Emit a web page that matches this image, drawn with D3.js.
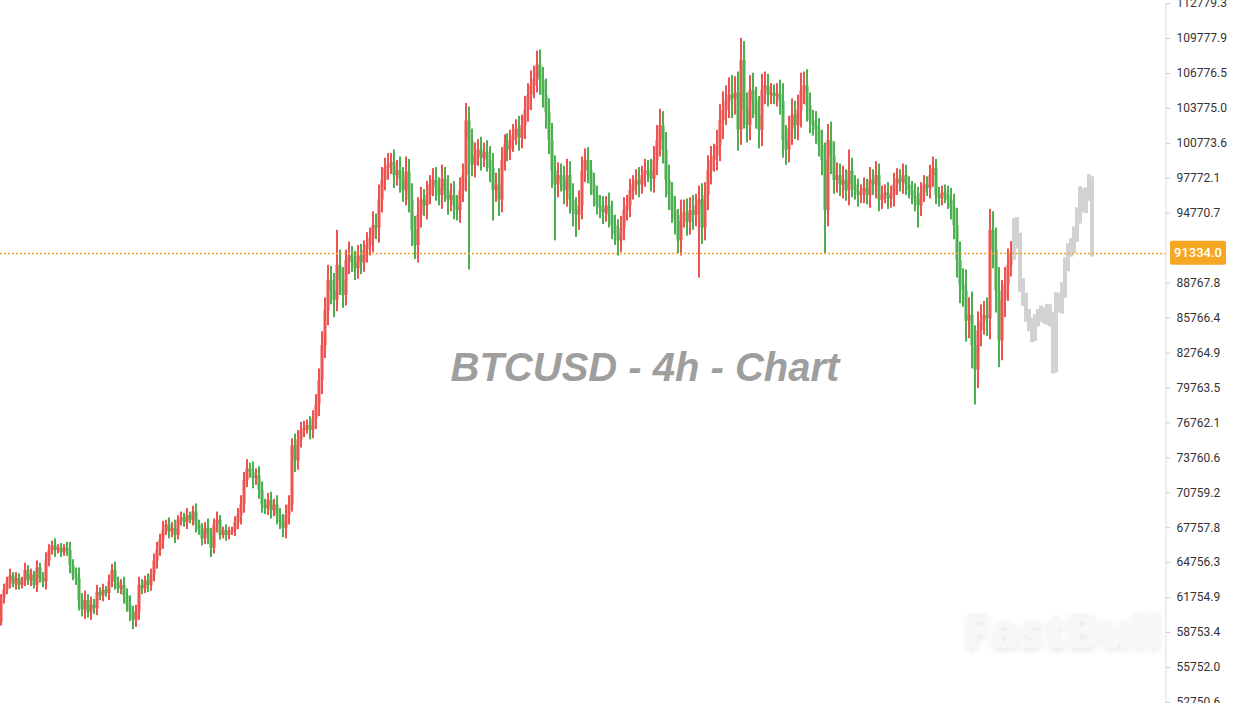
<!DOCTYPE html>
<html>
<head>
<meta charset="utf-8">
<script src="https://cdn.jsdelivr.net/npm/d3@7"></script>
<style>
  body { margin: 0; background: #fff; overflow: hidden; }
  svg { display: block; }
</style>
</head>
<body>
<div id="chart"></div>
<script>
// 4h closes, thousands of USD, read left to right off the chart
var firstOpen = 59.6;
var closes = [
  61.7, 62.4, 63.1, 63.6, 62.9, 63.4, 62.8, 63.2, 64.1, 63.2,
  63.7, 62.8, 64.3, 63.4, 63.1, 64.9, 65.8, 66.2, 65.8, 66.0,
  65.6, 66.0, 65.8, 64.5, 63.7, 63.4, 61.5, 60.7, 61.5, 60.5,
  61.1, 60.8, 62.2, 61.9, 62.4, 62.1, 63.1, 64.1, 63.1, 62.5,
  62.8, 61.9, 61.1, 60.5, 59.8, 60.5, 62.8, 62.5, 63.2, 62.8,
  63.7, 64.9, 65.8, 66.7, 67.5, 68.0, 67.4, 67.7, 67.1, 68.4,
  68.6, 68.2, 68.8, 68.4, 69.1, 68.0, 67.5, 66.8, 67.7, 67.1,
  66.0, 68.0, 68.4, 67.1, 67.5, 67.1, 67.4, 67.5, 68.2, 68.8,
  69.7, 71.8, 72.8, 72.5, 72.0, 72.2, 71.0, 69.7, 69.4, 70.1,
  69.2, 69.7, 68.8, 68.2, 67.7, 68.8, 69.7, 74.8, 73.5, 75.3,
  76.1, 76.3, 76.5, 76.1, 77.1, 78.3, 80.4, 83.4, 86.4, 89.0,
  88.1, 87.3, 90.3, 89.0, 87.7, 90.7, 91.1, 90.5, 90.0, 91.1,
  90.5, 91.6, 92.0, 92.6, 93.7, 93.5, 95.9, 97.6, 98.6, 98.9,
  99.1, 98.0, 98.4, 97.7, 96.7, 98.3, 95.9, 93.3, 92.0, 94.6,
  95.9, 95.4, 96.3, 97.2, 97.6, 96.9, 96.3, 97.7, 96.7, 95.9,
  96.3, 95.4, 95.0, 96.7, 98.0, 102.7, 101.0, 98.9, 99.7, 100.2,
  99.5, 100.0, 99.3, 98.6, 96.7, 97.2, 95.9, 99.3, 100.6, 100.2,
  101.0, 101.4, 102.0, 101.2, 102.3, 103.6, 104.9, 105.7, 106.3, 107.5,
  106.2, 104.9, 103.4, 101.0, 98.4, 97.2, 98.0, 97.6, 96.7, 98.0,
  95.9, 95.0, 94.6, 95.4, 98.4, 99.3, 98.4, 97.2, 96.3, 95.4,
  95.2, 94.8, 95.4, 94.6, 93.7, 92.9, 92.4, 93.5, 95.0, 95.4,
  96.7, 97.2, 97.6, 97.2, 98.0, 98.4, 98.3, 97.7, 99.3, 101.0,
  102.3, 100.2, 97.6, 96.3, 95.0, 94.1, 92.4, 94.6, 94.8, 94.0,
  95.0, 94.6, 95.4, 95.9, 93.5, 96.3, 98.4, 99.3, 99.7, 100.6,
  102.7, 103.6, 104.4, 104.9, 104.6, 105.1, 101.9, 107.9, 103.6, 102.3,
  105.3, 104.4, 103.2, 101.9, 105.3, 105.7, 104.9, 105.1, 104.8, 105.0,
  104.4, 101.0, 100.2, 102.0, 103.2, 102.3, 103.6, 105.3, 105.7, 104.0,
  102.7, 102.3, 101.9, 100.6, 99.3, 95.0, 101.0, 99.7, 97.6, 98.0,
  97.2, 97.6, 96.7, 98.4, 97.2, 96.7, 96.3, 96.5, 96.9, 96.3,
  97.6, 97.2, 98.0, 95.9, 96.3, 96.5, 96.0, 96.3, 97.2, 97.7,
  97.4, 98.0, 97.2, 96.7, 96.3, 95.9, 95.4, 96.5, 97.2, 96.9,
  98.0, 98.6, 96.3, 96.0, 96.5, 96.3, 95.9, 95.2, 93.7, 90.7,
  88.6, 88.1, 85.5, 86.0, 83.4, 81.3, 84.7, 85.5, 86.0, 85.7,
  93.3, 91.6, 88.1, 83.8, 87.3, 88.6, 90.3, 91.334
];

// how far each candle's wick reaches past its body, thousands of USD
var wickExt = [
  0.3, 0.5, 0.4, 0.6, 0.3, 0.5, 0.4, 0.3, 0.5, 0.4,
  0.5, 0.3, 0.6, 0.4, 0.5, 0.7, 0.5, 0.4, 0.6, 0.3,
  0.4, 0.3, 0.5, 0.7, 0.5, 0.6, 0.9, 0.6, 0.8, 0.5,
  0.7, 0.5, 0.6, 0.4, 0.5, 0.3, 0.6, 0.5, 0.7, 0.4,
  0.5, 0.7, 0.6, 0.8, 0.5, 0.6, 0.7, 0.5, 0.4, 0.6,
  0.5, 0.6, 0.7, 0.5, 0.8, 0.4, 0.6, 0.5, 0.7, 0.4,
  0.5, 0.4, 0.6, 0.3, 0.5, 0.7, 0.4, 0.6, 0.5, 0.8,
  0.6, 0.5, 0.7, 0.4, 0.3, 0.5, 0.4, 0.3, 0.5, 0.6,
  0.8, 0.7, 0.6, 0.5, 0.9, 0.6, 0.8, 0.7, 0.5, 0.6,
  0.7, 0.5, 0.8, 0.6, 0.7, 0.9, 0.8, 0.6, 1.0, 0.8,
  0.7, 0.6, 0.5, 0.8, 0.7, 0.9, 1.0, 1.2, 1.1, 1.3,
  1.2, 1.5, 1.0, 1.3, 1.1, 0.9, 1.2, 0.8, 1.0, 0.9,
  1.0, 0.8, 1.1, 0.9, 1.2, 1.0, 1.3, 1.1, 0.9, 1.0,
  0.8, 1.1, 0.9, 1.2, 1.0, 1.3, 1.1, 1.4, 1.2, 1.5,
  1.1, 0.9, 1.2, 0.8, 1.0, 1.1, 0.9, 1.2, 1.0, 1.3,
  1.0, 1.2, 0.9, 1.1, 1.0, 1.4, 1.2, 1.0, 1.1, 0.9,
  1.1, 0.8, 1.0, 1.2, 1.3, 1.0, 1.4, 1.1, 0.9, 1.0,
  0.9, 1.0, 0.8, 1.1, 0.9, 1.2, 1.0, 1.3, 1.1, 1.2,
  1.3, 1.1, 1.4, 1.2, 1.5, 1.3, 1.1, 1.0, 1.2, 1.4,
  1.2, 1.4, 1.1, 1.3, 1.2, 1.0, 1.1, 0.9, 1.0, 0.8,
  0.9, 1.0, 0.8, 1.1, 1.2, 0.9, 1.3, 1.0, 1.1, 0.9,
  1.0, 0.8, 0.9, 1.1, 0.8, 1.0, 0.9, 1.1, 1.2, 1.3,
  1.4, 1.2, 1.5, 1.3, 1.1, 1.2, 1.0, 1.3, 1.1, 1.2,
  1.1, 1.3, 1.0, 1.2, 1.4, 1.1, 1.3, 1.2, 1.0, 1.3,
  1.4, 1.6, 1.3, 1.5, 1.7, 1.4, 1.8, 1.3, 1.6, 1.5,
  1.3, 1.5, 1.2, 1.6, 1.4, 1.2, 1.0, 0.8, 0.7, 0.9,
  1.2, 1.5, 1.3, 1.1, 1.4, 1.2, 1.3, 1.5, 1.2, 1.4,
  1.1, 0.9, 1.2, 1.0, 1.3, 1.5, 1.4, 1.6, 1.2, 1.1,
  1.0, 1.2, 0.9, 1.3, 1.1, 0.8, 1.0, 0.7, 0.9, 0.8,
  1.1, 0.9, 1.2, 1.0, 0.8, 0.7, 0.9, 0.8, 1.0, 0.9,
  0.8, 1.0, 0.9, 0.7, 0.8, 1.0, 1.1, 0.9, 0.8, 0.7,
  0.9, 1.0, 0.8, 0.7, 0.6, 0.7, 0.8, 1.0, 1.2, 1.5,
  1.6, 1.4, 1.8, 1.5, 2.0, 1.7, 1.6, 1.4, 1.2, 1.5,
  1.8, 1.6, 1.9, 2.0, 1.7, 1.5, 1.4, 1.0
];

// long wicks: [candle index, price in thousands]
var wickHighs = [
  [8, 64.7], [17, 66.5], [37, 64.4], [64, 69.5], [82, 73.6], [112, 93.3],
  [130, 99.6], [155, 104.2], [179, 108.4], [221, 102.8], [247, 109.8],
  [267, 106.4], [283, 100.2], [311, 99.5], [330, 95.0]
];
var wickLows = [
  [44, 59.0], [70, 65.2], [94, 66.9], [138, 90.9], [156, 89.9], [164, 94.1],
  [185, 92.4], [192, 92.7], [206, 91.7], [226, 91.3], [233, 89.2],
  [275, 91.3], [306, 93.5], [325, 78.3], [333, 81.5]
];

// grey projected path after the last candle, thousands of USD
var projection = [
  93.7, 92.4, 88.6, 87.3, 86.0, 85.1, 84.3, 85.5, 86.0, 86.2, 85.7, 86.4, 85.5, 81.7,
  87.3, 86.8, 88.1, 90.3, 91.6, 92.0, 92.9, 94.6, 96.3, 95.4, 96.3, 97.6, 91.3
];
var projectionExt = [
  1.2, 1.4, 1.3, 1.1, 1.2, 1.0, 1.3, 1.1, 1.0, 1.2, 0.9, 1.1, 1.0, 1.5,
  1.3, 1.2, 1.4, 1.3, 1.1, 1.2, 1.4, 1.3, 1.5, 1.2, 1.3, 1.0, 0.6
];

var lastPrice = 91334.0;
var yTicks = [
  52750.6, 55752.0, 58753.4, 61754.9, 64756.3, 67757.8, 70759.2, 73760.6,
  76762.1, 79763.5, 82764.9, 85766.4, 88767.8, 94770.7, 97772.1, 100773.6,
  103775.0, 106776.5, 109777.9, 112779.3
];

var svgWidth = 1235;
var svgHeight = 703;
var plotWidth = 1165;

var upColor = "#ef5350";
var downColor = "#4caf50";

var svg = d3.select("#chart")
  .append("svg")
  .attr("width", svgWidth)
  .attr("height", svgHeight);

var defs = svg.append("defs");
defs.append("clipPath")
  .attr("id", "plot-clip")
  .append("rect")
  .attr("x", 0).attr("y", 0)
  .attr("width", plotWidth).attr("height", svgHeight);

var shadow = defs.append("filter")
  .attr("id", "wm-shadow")
  .attr("x", "-10%").attr("y", "-20%")
  .attr("width", "120%").attr("height", "150%");
shadow.append("feDropShadow")
  .attr("dx", 0).attr("dy", 3)
  .attr("stdDeviation", 3)
  .attr("flood-color", "#000")
  .attr("flood-opacity", 0.09);

var yScale = d3.scaleLinear()
  .domain([52750.6, 112779.3])
  .range([701.9, 3.1]);

var xScale = d3.scaleLinear()
  .domain([0, closes.length - 1])
  .range([1, 1011]);

var plot = svg.append("g").attr("clip-path", "url(#plot-clip)");

// watermark
plot.append("text")
  .attr("x", 964)
  .attr("y", 648)
  .attr("font-family", "'Open Sans', 'Noto Sans', sans-serif")
  .attr("font-weight", 800)
  .attr("font-size", 48)
  .attr("fill", "#f7f7f7")
  .attr("filter", "url(#wm-shadow)")
  .text("FastBull");

// title
plot.append("text")
  .attr("x", 645)
  .attr("y", 381)
  .attr("text-anchor", "middle")
  .attr("font-family", "'Liberation Sans', Arial, sans-serif")
  .attr("font-weight", "bold")
  .attr("font-style", "italic")
  .attr("font-size", 40)
  .attr("fill", "#9e9e9e")
  .text("BTCUSD - 4h - Chart");

// build candles: open is the previous close
var candles = closes.map(function(c, i) {
  var open = i === 0 ? firstOpen : closes[i - 1];
  return {
    i: i,
    open: open * 1000,
    close: c * 1000,
    high: (Math.max(open, c) + wickExt[i]) * 1000,
    low: (Math.min(open, c) - wickExt[i]) * 1000
  };
});
wickHighs.forEach(function(w) {
  candles[w[0]].high = Math.max(candles[w[0]].high, w[1] * 1000);
});
wickLows.forEach(function(w) {
  candles[w[0]].low = Math.min(candles[w[0]].low, w[1] * 1000);
});

var candleGroup = plot.append("g");

// wick
candleGroup.selectAll("rect.wick")
  .data(candles)
  .enter()
  .append("rect")
  .attr("class", "wick")
  .attr("x", d => Math.round(xScale(d.i)) - 1)
  .attr("width", 2)
  .attr("y", d => yScale(d.high))
  .attr("height", d => yScale(d.low) - yScale(d.high))
  .attr("fill", d => d.close >= d.open ? upColor : downColor);

// body
candleGroup.selectAll("rect.body")
  .data(candles)
  .enter()
  .append("rect")
  .attr("class", "body")
  .attr("x", d => Math.round(xScale(d.i)) - 1.5)
  .attr("width", 3)
  .attr("y", d => yScale(Math.max(d.open, d.close)))
  .attr("height", d => Math.max(1.5, Math.abs(yScale(d.open) - yScale(d.close))))
  .attr("fill", d => d.close >= d.open ? upColor : downColor);

// projected path in grey
var projData = projection.map(function(p, j) {
  var prev = j === 0 ? closes[closes.length - 1] : projection[j - 1];
  return {
    i: closes.length + j,
    high: (Math.max(prev, p) + projectionExt[j] / 2) * 1000,
    low: (Math.min(prev, p) - projectionExt[j] / 2) * 1000
  };
});

plot.append("g").selectAll("rect")
  .data(projData)
  .enter()
  .append("rect")
  .attr("x", d => Math.round(xScale(d.i)) - 2)
  .attr("width", 4)
  .attr("y", d => yScale(d.high))
  .attr("height", d => yScale(d.low) - yScale(d.high))
  .attr("fill", "#d2d2d2");

// current price line
var priceY = Math.round(yScale(lastPrice)) + 0.5;
plot.append("line")
  .attr("x1", 0)
  .attr("x2", plotWidth)
  .attr("y1", priceY)
  .attr("y2", priceY)
  .attr("stroke", "#f5a01a")
  .attr("stroke-width", 1.5)
  .attr("stroke-dasharray", "2,2");

// right price axis
var rightAxis = d3.axisRight(yScale)
  .tickValues(yTicks)
  .tickFormat(d3.format(".1f"))
  .tickSize(5)
  .tickSizeOuter(0)
  .tickPadding(6);

var axisG = svg.append("g")
  .attr("transform", `translate(${plotWidth + 0.5}, 0)`)
  .call(rightAxis);

axisG.select(".domain").attr("stroke", "#dcdcdc");
axisG.selectAll(".tick line").attr("stroke", "#cfcfcf");
axisG.selectAll(".tick text")
  .attr("fill", "#333")
  .attr("font-family", "Roboto, 'Noto Sans', sans-serif")
  .attr("font-size", 12);

// last price tag
var tagY = yScale(lastPrice);
svg.append("rect")
  .attr("x", 1170)
  .attr("y", tagY - 12)
  .attr("width", 56)
  .attr("height", 24)
  .attr("rx", 2)
  .attr("fill", "#f5a623");

svg.append("text")
  .attr("x", 1198)
  .attr("y", tagY)
  .attr("dy", "0.36em")
  .attr("text-anchor", "middle")
  .attr("font-family", "Roboto, 'Noto Sans', sans-serif")
  .attr("font-size", 13)
  .attr("font-weight", 500)
  .attr("fill", "#fff")
  .text(d3.format(".1f")(lastPrice));
</script>
</body>
</html>
